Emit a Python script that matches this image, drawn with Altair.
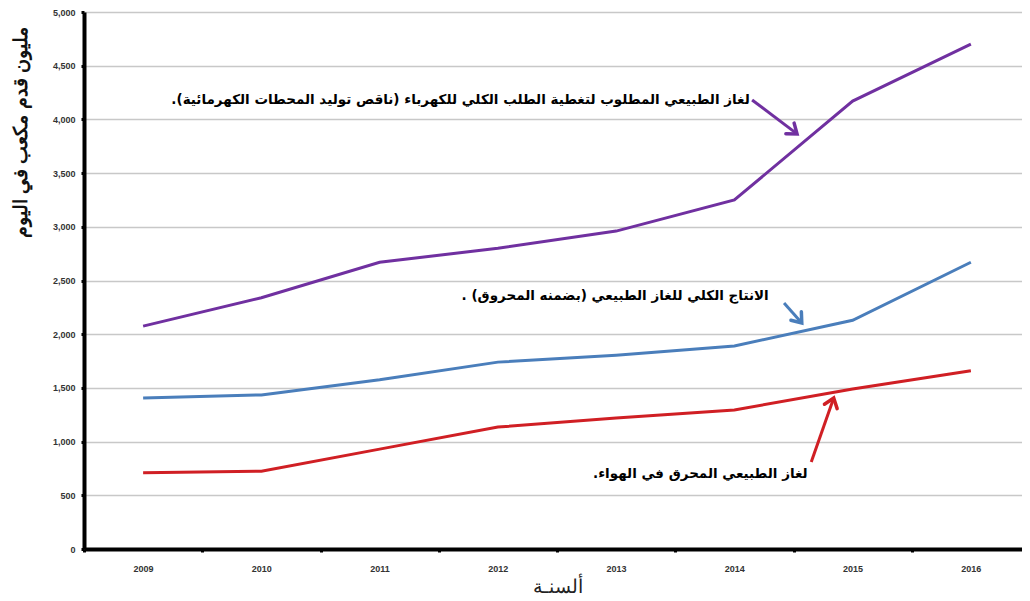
import altair as alt
import pandas as pd

years = [2009, 2010, 2011, 2012, 2013, 2014, 2015, 2016]
demand = [2075, 2340, 2670, 2800, 2960, 3250, 4170, 4700]
production = [1405, 1435, 1575, 1740, 1805, 1890, 2130, 2670]
flared = [710, 725, 930, 1135, 1220, 1295, 1490, 1660]

series_names = ["demand", "production", "flared"]
series_colors = ["#7030A0", "#4A7EBB", "#D01F24"]

RLM = "\u200f"
label_texts = [
    "لغاز الطبيعي المطلوب لتغطية الطلب الكلي للكهرباء (ناقص توليد المحطات الكهرمائية)." + RLM,
    "الانتاج الكلي للغاز الطبيعي  (بضمنه المحروق) ." + RLM,
    "لغاز الطبيعي المحرق في الهواء." + RLM,
]
label_x = [2014.13, 2014.29, 2014.62]
label_y = [4181, 2356, 698]

arrow_x1 = [2014.15, 2014.42, 2014.65]
arrow_y1 = [4181, 2290, 810]
arrow_x2 = [2014.53, 2014.57, 2014.84]
arrow_y2 = [3865, 2105, 1406]
arrow_angle = [128, 141, 19]

rows = []
for name, vals in zip(series_names, [demand, production, flared]):
    for y, v in zip(years, vals):
        rows.append({"year": y, "value": v, "series": name})
df = pd.DataFrame(rows)

ann = pd.DataFrame({"x": label_x, "y": label_y, "text": label_texts})
arr = pd.DataFrame({
    "x1": arrow_x1, "y1": arrow_y1, "x2": arrow_x2, "y2": arrow_y2,
    "angle": arrow_angle, "series": series_names,
})

xscale = alt.Scale(domain=[2008.5, 2016.5], nice=False, zero=False)
yscale = alt.Scale(domain=[0, 5000], nice=False)
cscale = alt.Scale(domain=series_names, range=series_colors)

x_axis = alt.Axis(
    values=[2008.5 + i for i in range(8)],
    labelExpr="format(datum.value + 0.5, 'd')",
    labelOffset=59, labelFlush=False, labelFontSize=9, labelFontWeight="bold",
    labelColor="#333", labelPadding=12,
    grid=False, domainColor="black", domainWidth=4,
    tickColor="black", tickSize=3, tickWidth=3,
    title="ألسنـة", titleFontSize=19, titleFontWeight="normal",
    titlePadding=4, titleColor="#222",
)
y_axis = alt.Axis(
    values=list(range(0, 5001, 500)), format=",d",
    labelFontSize=9, labelFontWeight="bold", labelColor="#333", labelPadding=6,
    grid=True, gridColor="#c8c8c8", gridWidth=1.5,
    domainColor="black", domainWidth=4,
    tickColor="black", tickSize=3, tickWidth=3,
    title="مليون قدم مكعب في اليوم", titleFontSize=19, titleFontWeight="bold",
    titleAngle=270, titleX=-64, titleY=120, titleAlign="center",
    titleBaseline="middle", titleColor="#111",
)

lines = alt.Chart(df).mark_line(strokeWidth=3).encode(
    x=alt.X("year:Q", scale=xscale, axis=x_axis),
    y=alt.Y("value:Q", scale=yscale, axis=y_axis),
    color=alt.Color("series:N", scale=cscale, legend=None),
)

shafts = alt.Chart(arr).mark_rule(strokeWidth=3).encode(
    x=alt.X("x1:Q", scale=xscale),
    y=alt.Y("y1:Q", scale=yscale),
    x2="x2:Q", y2="y2:Q",
    color=alt.Color("series:N", scale=cscale, legend=None),
)
heads = alt.Chart(arr).mark_point(
    shape="M -0.75 1 L 0 0 L 0.75 1", filled=False, size=320, strokeWidth=3.5,
    opacity=1, strokeCap="round", strokeJoin="miter",
).encode(
    x=alt.X("x2:Q", scale=xscale),
    y=alt.Y("y2:Q", scale=yscale),
    angle=alt.Angle("angle:Q", scale=None),
    color=alt.Color("series:N", scale=cscale, legend=None),
)

texts = alt.Chart(ann).mark_text(
    align="right", baseline="middle", fontSize=13.5, fontWeight="bold",
    font="DejaVu Sans", color="black",
).encode(
    x=alt.X("x:Q", scale=xscale),
    y=alt.Y("y:Q", scale=yscale),
    text="text:N",
)

chart = alt.layer(lines, shafts, heads, texts).properties(
    width=946, height=537,
    autosize=alt.AutoSizeParams(type="none"),
    padding={"left": 76, "top": 4, "right": -8, "bottom": 50},
    background="white",
).configure_view(stroke=None)

chart.save("out.html", embed_options={"renderer": "svg", "actions": False})
